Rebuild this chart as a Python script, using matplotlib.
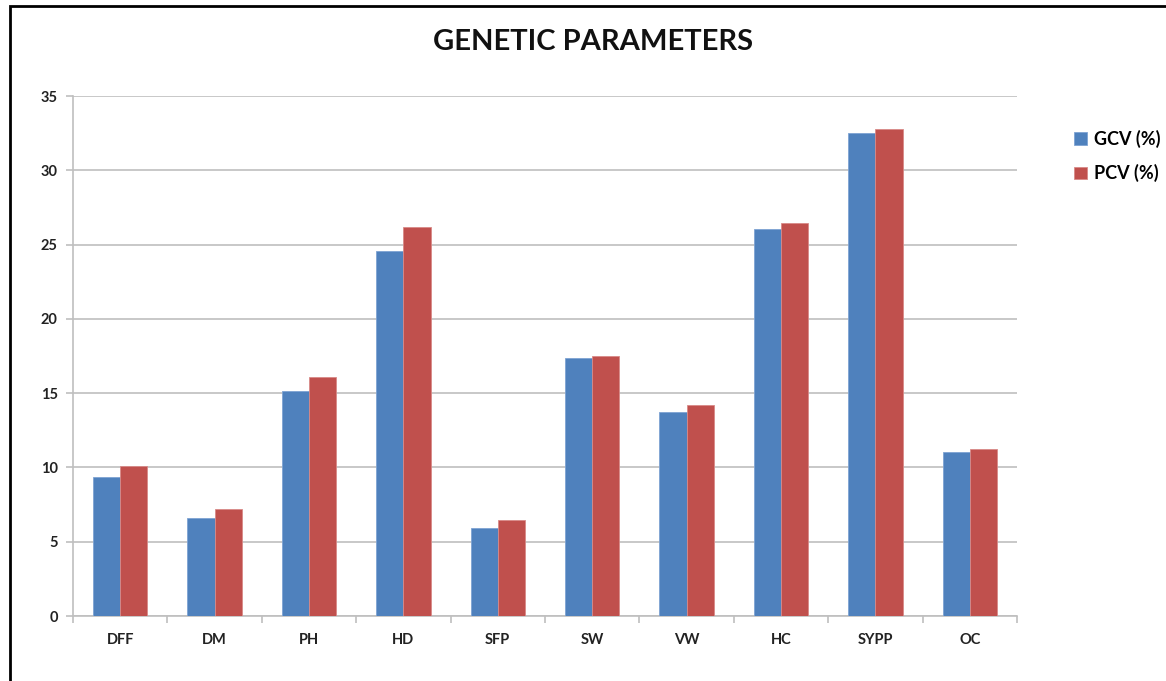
import numpy as np
import matplotlib.pyplot as plt
from matplotlib.patches import Rectangle

traits = ["DFF", "DM", "PH", "HD", "SFP", "SW", "VW", "HC", "SYPP", "OC"]
gcv = [9.37, 6.62, 15.15, 24.57, 5.92, 17.37, 13.75, 26.05, 32.5, 11.04]
pcv = [10.12, 7.18, 16.08, 26.15, 6.46, 17.5, 14.18, 26.45, 32.78, 11.26]

blue = "#4F81BD"
red = "#C0504D"
grid_col = "#BFBFBF"

plt.rcParams["font.family"] = ["Lato", "DejaVu Sans"]

fig = plt.figure(figsize=(11.66, 6.81), dpi=100)
ax = fig.add_axes([73 / 1166, 1 - 616 / 681, (1017 - 73) / 1166, (616 - 96) / 681])

x = np.arange(len(traits))
w = 0.288
ax.bar(x - w / 2, gcv, w, color=blue, edgecolor="#7EA3D3", linewidth=0.6, label="GCV (%)", zorder=3)
ax.bar(x + w / 2, pcv, w, color=red, edgecolor="#D88A88", linewidth=0.6, label="PCV (%)", zorder=3)

ax.set_xlim(-0.5, len(traits) - 0.5)
ax.set_ylim(0, 35)
ax.set_yticks(np.arange(0, 36, 5))
ax.yaxis.grid(True, color=grid_col, linewidth=1.2, zorder=0)

# category boundaries get the tick marks, labels sit in the middle
ax.set_xticks(np.arange(-0.5, len(traits), 1))
ax.set_xticklabels([])
ax.set_xticks(x, minor=True)
ax.set_xticklabels(traits, minor=True, fontweight="bold", fontsize=10.5, color="#222222")
ax.tick_params(axis="x", which="major", length=5, color=grid_col, width=1.2)
ax.tick_params(axis="x", which="minor", length=0, pad=12)
ax.tick_params(axis="y", length=5, color=grid_col, width=1.2, pad=6)
for lab in ax.get_yticklabels():
    lab.set_fontweight("bold")
    lab.set_fontsize(10.5)
    lab.set_color("#222222")

for s in ["top", "right"]:
    ax.spines[s].set_visible(False)
for s in ["left", "bottom"]:
    ax.spines[s].set_color(grid_col)
    ax.spines[s].set_linewidth(1.2)

fig.text(593 / 1166, 1 - 42 / 681, "GENETIC PARAMETERS", ha="center", va="center",
         fontsize=21, fontweight="bold", color="#111111")

leg = ax.legend(loc="center left", bbox_to_anchor=(1058 / 1166, 1 - 156 / 681),
                bbox_transform=fig.transFigure, frameon=False,
                prop={"weight": "bold", "size": 13}, handlelength=0.7, handleheight=0.7,
                handletextpad=0.4, labelspacing=0.9)

# outer frame of the picture
fig.patches.append(Rectangle((10 / 1166, -0.05), 1.1, 1 - 6 / 681 + 0.05, transform=fig.transFigure,
                             fill=False, edgecolor="black", linewidth=2, clip_on=False))

fig.savefig("out.png", dpi=100, facecolor="white")
